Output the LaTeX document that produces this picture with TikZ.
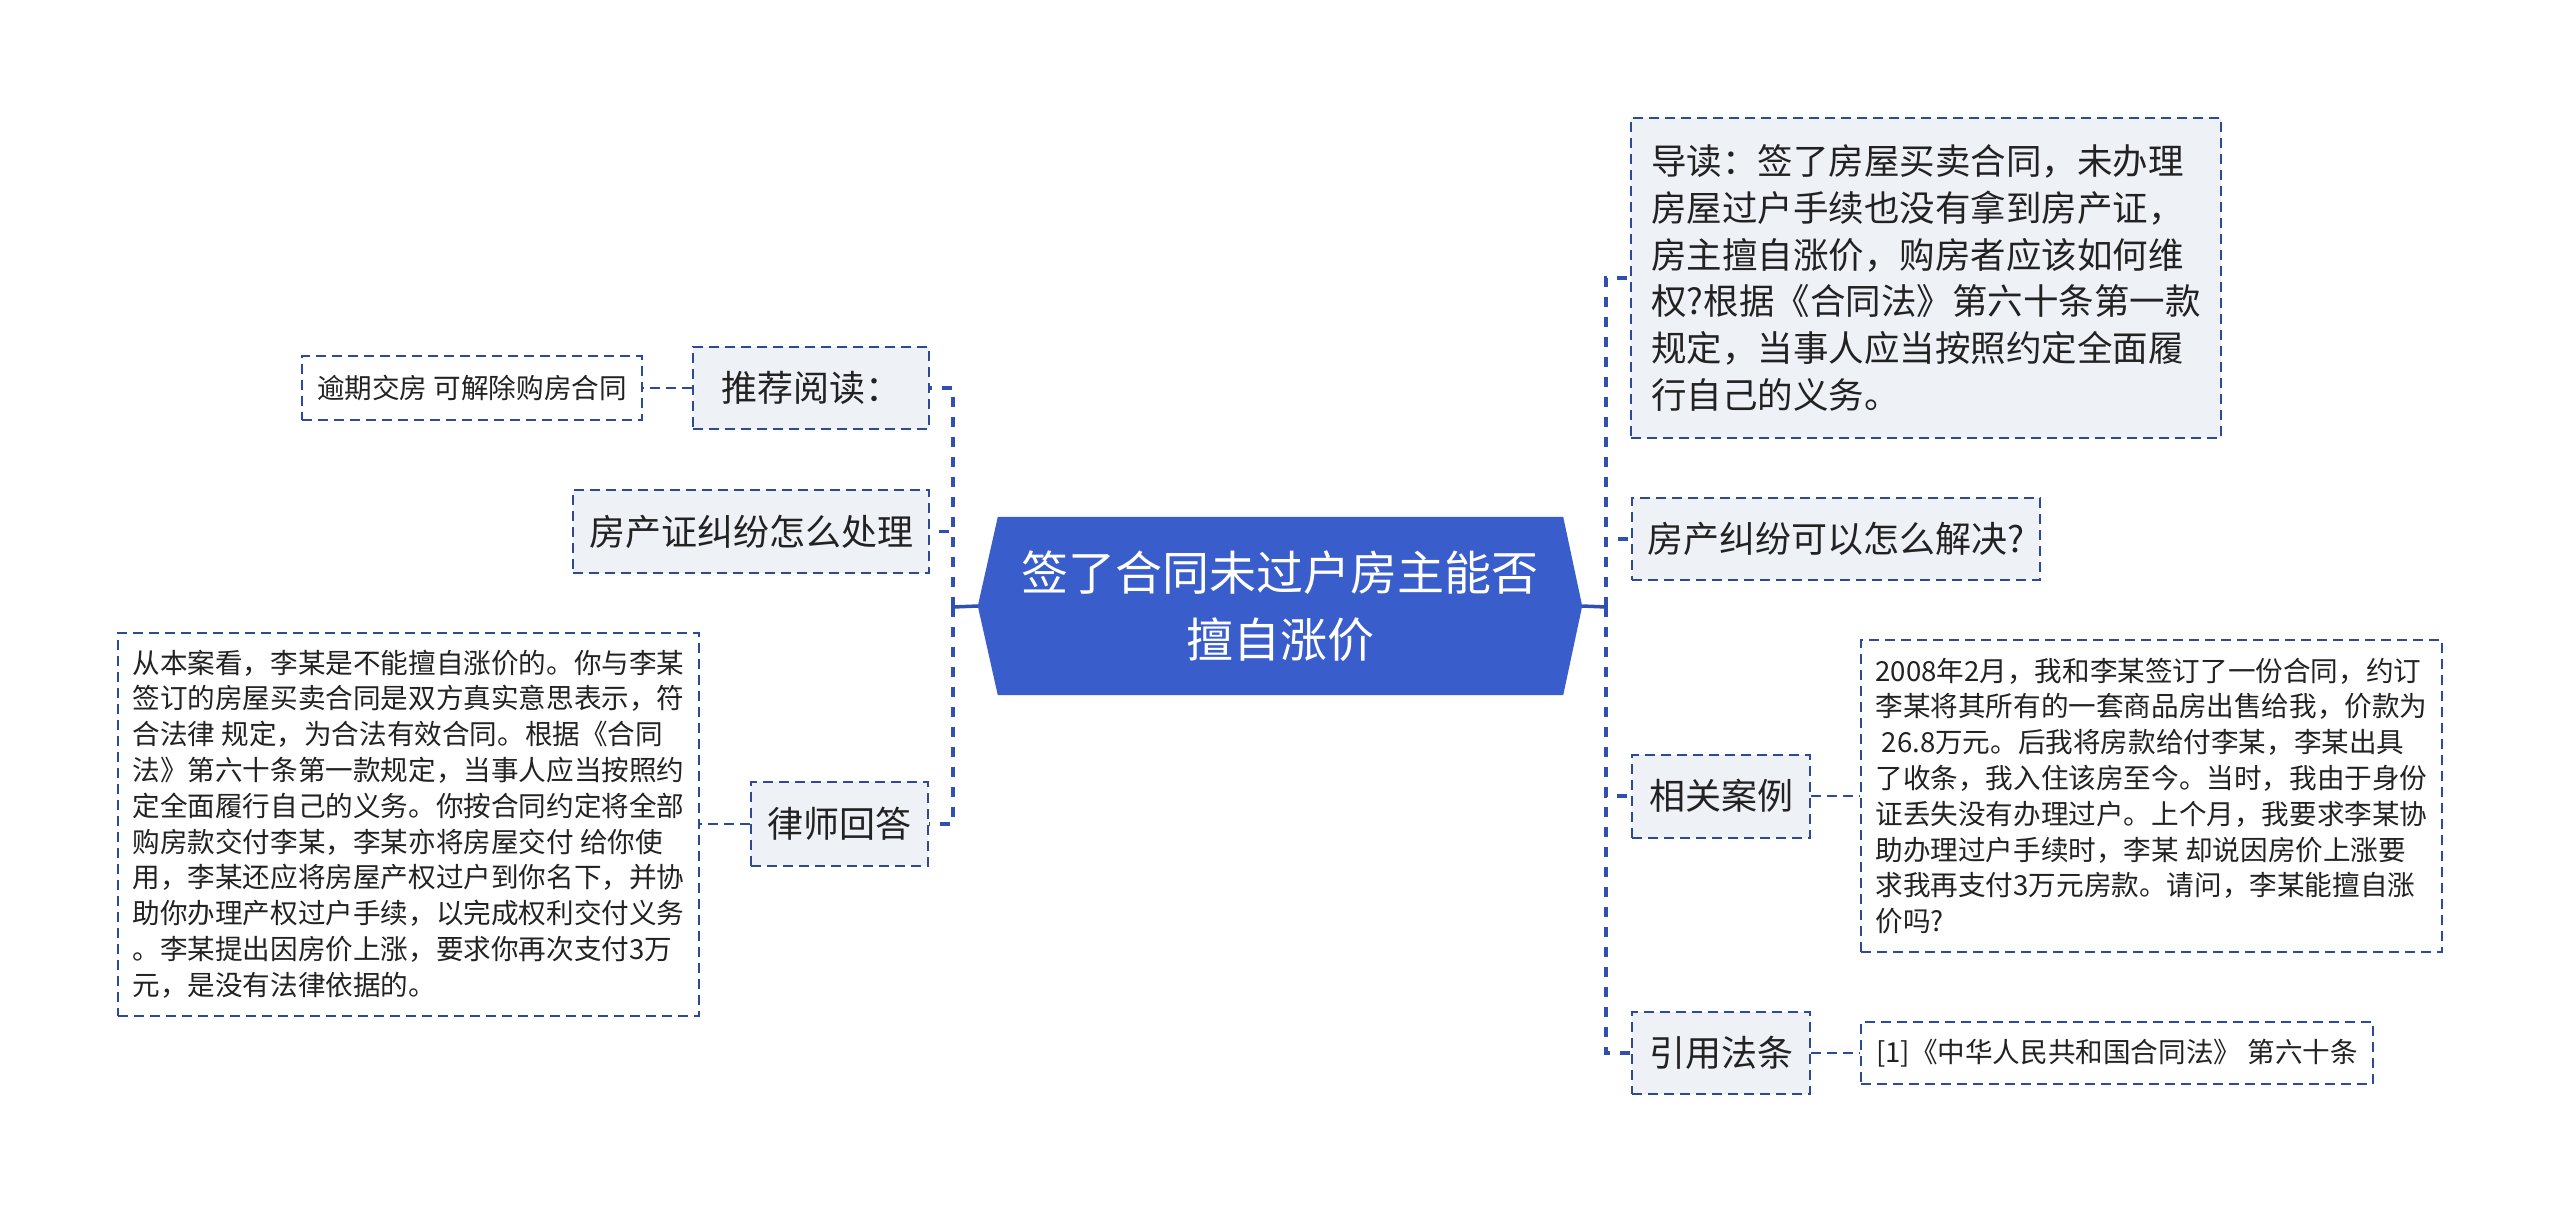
\documentclass[tikz,border=0pt]{standalone}
\usepackage{fontspec}
\setmainfont{Noto Sans CJK SC}
\usetikzlibrary{backgrounds,calc}
\definecolor{hubblue}{HTML}{3A5DCC}
\definecolor{linkblue}{HTML}{2F50B0}
\definecolor{borderblue}{HTML}{2B4A9A}
\definecolor{boxfill}{HTML}{EEF1F6}
\definecolor{ink}{HTML}{222222}
\begin{document}
\begin{tikzpicture}[x=1pt,y=-1pt,
  hubnode/.style={inner sep=0pt, minimum width=604, minimum height=178, text=white, align=center, font=\fontsize{47}{67}\selectfont},
  topic/.style={draw=borderblue, line width=2pt, dash pattern=on 10pt off 6pt, fill=boxfill, inner sep=0pt, text=ink, font=\fontsize{36}{44}\selectfont},
  leaf/.style={draw=borderblue, line width=2pt, dash pattern=on 10pt off 6pt, fill=white, inner sep=0pt, text=ink, font=\fontsize{27.6}{35.8}\selectfont, align=left},
  trunk/.style={draw=linkblue, line width=3.5pt, dash pattern=on 10pt off 10pt},
  hubline/.style={draw=linkblue, line width=3.5pt},
  leafline/.style={draw=borderblue, line width=2pt, dash pattern=on 10pt off 6pt}]
\useasboundingbox (0,0) rectangle (2560,1213);

% centre
\node[hubnode] (center) at (1280,606) {签了合同未过户房主能否\\擅自涨价};
\begin{scope}[on background layer]
  \fill[white] (0,0) rectangle (2560,1213);
  \fill[hubblue] (center.west) -- ($(center.north west)+(20,0)$) -- ($(center.north east)+(-19,0)$)
    -- (center.east) -- ($(center.south east)+(-19,0)$) -- ($(center.south west)+(20,0)$) -- cycle;
\end{scope}

% left side
\node[topic, minimum width=236, minimum height=82] (tuijian) at (811,388) {推荐阅读：};
\node[leaf, minimum width=340, minimum height=64] (yuqi) at (472,388) {逾期交房 可解除购房合同};
\node[topic, minimum width=356, minimum height=83] (chuli) at (751,531.5) {房产证纠纷怎么处理};
\node[topic, minimum width=177, minimum height=84] (lvshi) at (839.5,824) {律师回答};
\node[leaf, minimum width=581, minimum height=383] (answer) at (408.5,824) {从本案看，李某是不能擅自涨价的。你与李某\\签订的房屋买卖合同是双方真实意思表示，符\\合法律 规定，为合法有效合同。根据《合同\\法》第六十条第一款规定，当事人应当按照约\\定全面履行自己的义务。你按合同约定将全部\\购房款交付李某，李某亦将房屋交付 给你使\\用，李某还应将房屋产权过户到你名下，并协\\助你办理产权过户手续，以完成权利交付义务\\。李某提出因房价上涨，要求你再次支付3万\\元，是没有法律依据的。};

% right side
\node[topic, minimum width=590, minimum height=320, align=left, font=\fontsize{35.5}{46.7}\selectfont] (daodu) at (1926,278) {导读：签了房屋买卖合同，未办理\\房屋过户手续也没有拿到房产证，\\房主擅自涨价，购房者应该如何维\\权?根据《合同法》第六十条第一款\\规定，当事人应当按照约定全面履\\行自己的义务。};
\node[topic, minimum width=408, minimum height=82] (jiejue) at (1836,539) {房产纠纷可以怎么解决?};
\node[topic, minimum width=178, minimum height=83] (anli) at (1721,796) {相关案例};
\node[leaf, minimum width=581, minimum height=312] (anlitext) at (2151.5,796) {2008年2月，我和李某签订了一份合同，约订\\李某将其所有的一套商品房出售给我，价款为\\\ 26.8万元。后我将房款给付李某，李某出具\\了收条，我入住该房至今。当时，我由于身份\\证丢失没有办理过户。上个月，我要求李某协\\助办理过户手续时，李某 却说因房价上涨要\\求我再支付3万元房款。请问，李某能擅自涨\\价吗?};
\node[topic, minimum width=178, minimum height=82] (yinyong) at (1721,1053) {引用法条};
\node[leaf, minimum width=512, minimum height=62] (law) at (2117,1053) {[1]《中华人民共和国合同法》 第六十条};

% connectors
\coordinate (ltrunk) at (953,607);
\coordinate (rtrunk) at (1606,607);
\draw[hubline] (center.west) -- (ltrunk);
\draw[hubline] (center.east) -- (rtrunk);
\draw[trunk] (ltrunk) |- (tuijian.east);
\draw[trunk] (ltrunk) |- (chuli.east);
\draw[trunk] (ltrunk) |- (lvshi.east);
\draw[trunk] (rtrunk) |- (daodu.west);
\draw[trunk] (rtrunk) |- (jiejue.west);
\draw[trunk] (rtrunk) |- (anli.west);
\draw[trunk] (rtrunk) |- (yinyong.west);
\draw[leafline] (tuijian.west) -- (yuqi.east);
\draw[leafline] (lvshi.west) -- (answer.east);
\draw[leafline] (anli.east) -- (anlitext.west);
\draw[leafline] (yinyong.east) -- (law.west);
\end{tikzpicture}
\end{document}
